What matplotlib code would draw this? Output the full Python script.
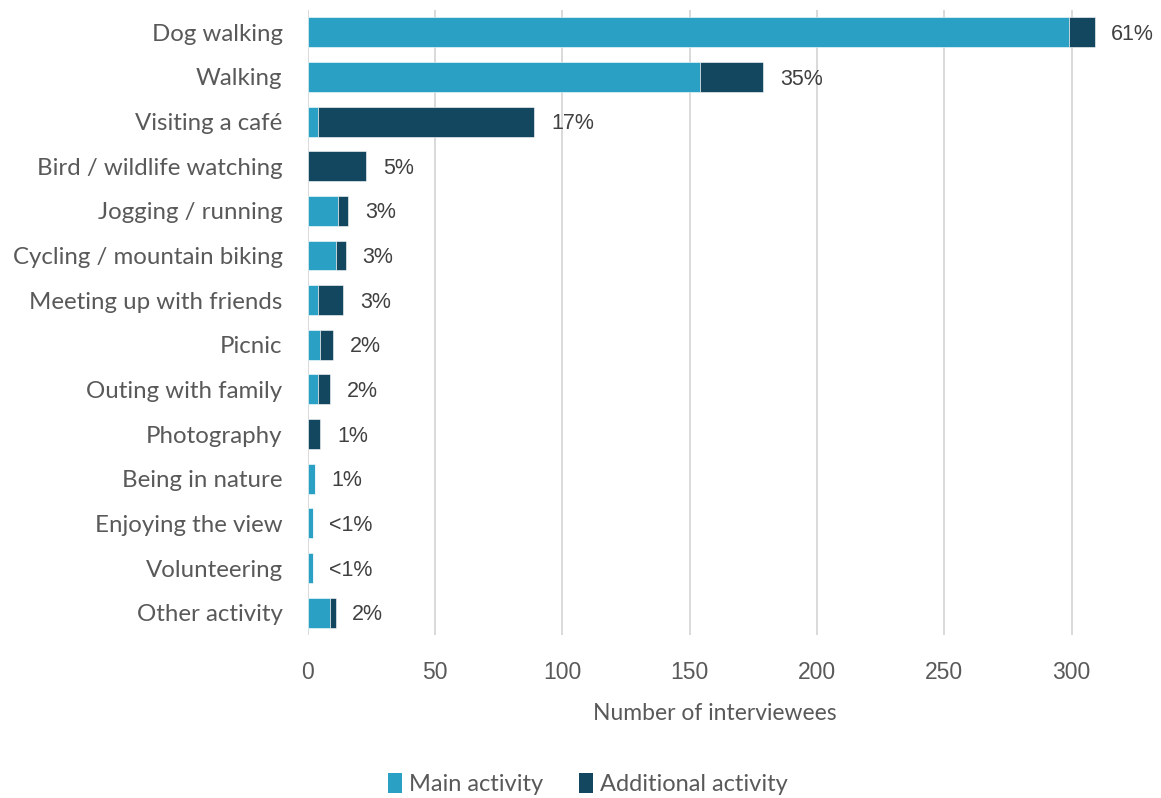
import matplotlib
matplotlib.use("Agg")
import matplotlib.pyplot as plt
from matplotlib.patches import Patch

categories = [
    "Dog walking", "Walking", "Visiting a café", "Bird / wildlife watching",
    "Jogging / running", "Cycling / mountain biking", "Meeting up with friends",
    "Picnic", "Outing with family", "Photography", "Being in nature",
    "Enjoying the view", "Volunteering", "Other activity",
]
main_activity = [299, 154, 4, 0, 12, 11, 4, 5, 4, 0, 3, 2, 2, 9]
additional_activity = [10, 25, 85, 23, 4, 4, 10, 5, 5, 5, 0, 0, 0, 2]
pct_labels = ["61%", "35%", "17%", "5%", "3%", "3%", "3%", "2%", "2%",
              "1%", "1%", "<1%", "<1%", "2%"]
x_ticks = [0, 50, 100, 150, 200, 250, 300]

MAIN_C = "#2aa0c4"
ADD_C = "#12475f"
GRID_C = "#d9d9d9"
LABEL_C = "#595959"
VALUE_C = "#404040"

fig = plt.figure(figsize=(11.61, 7.98), dpi=100)
ax = fig.add_axes([0.2649, 0.2043, 0.702, 0.7832])

y = list(range(len(categories)))
ax.barh(y, main_activity, height=0.67, color=MAIN_C, edgecolor="white",
        linewidth=0.4, zorder=3, label="Main activity")
ax.barh(y, additional_activity, left=main_activity, height=0.67, color=ADD_C,
        edgecolor="white", linewidth=0.4, zorder=3, label="Additional activity")

for yi, m, a, lab in zip(y, main_activity, additional_activity, pct_labels):
    ax.annotate(lab, xy=(m + a, yi), xytext=(12, -1.5), textcoords="offset points",
                ha="left", va="center", fontsize=15.5, color=VALUE_C,
                family="Liberation Sans")

ax.set_xlim(0, 320)
ax.set_ylim(len(categories) - 0.5, -0.5)
ax.set_xticks(x_ticks)
ax.set_yticks(y)
ax.set_yticklabels(categories, family="Lato", fontsize=17.3, color=LABEL_C)
for t in ax.get_xticklabels():
    t.set_family("Liberation Sans")
ax.tick_params(axis="x", length=0, pad=19, labelsize=16.5, labelcolor=LABEL_C)
ax.tick_params(axis="y", length=0, pad=18)

ax.grid(axis="x", color=GRID_C, linewidth=1.4, zorder=0)
ax.set_axisbelow(True)
for s in ax.spines.values():
    s.set_visible(False)

fig.text(715 / 1161, 1 - 713 / 798, "Number of interviewees", ha="center",
         va="center", family="Lato", fontsize=16.5, color=LABEL_C)

handles = [Patch(facecolor=MAIN_C, label="Main activity"),
           Patch(facecolor=ADD_C, label="Additional activity")]
fig.legend(handles=handles, loc="center", bbox_to_anchor=(588 / 1161, 1 - 784 / 798),
           ncol=2, frameon=False, prop={"family": "Lato", "size": 17},
           labelcolor=LABEL_C, handlelength=0.6, handleheight=0.9,
           handletextpad=0.3, columnspacing=1.5)

fig.savefig("out.png", dpi=100)
